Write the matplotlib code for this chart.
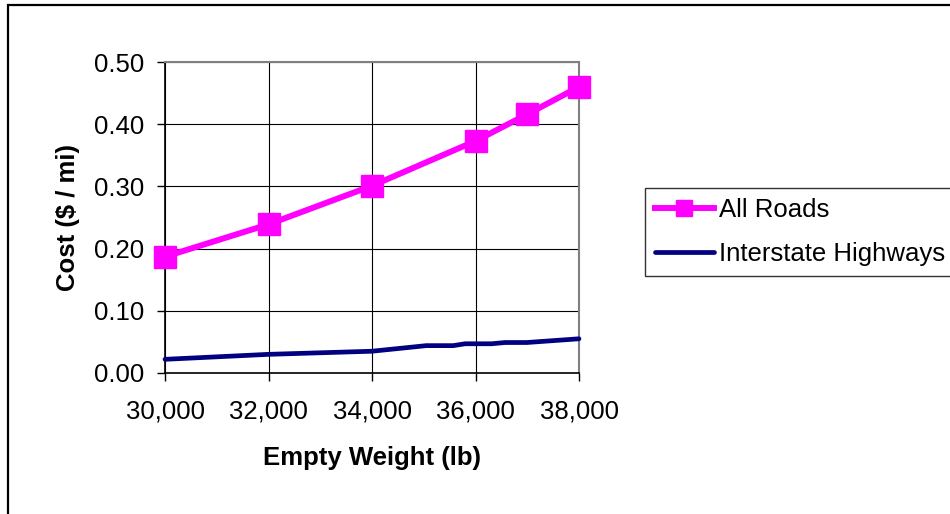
import matplotlib.pyplot as plt
from matplotlib.patches import Rectangle
from matplotlib.ticker import FuncFormatter

plt.rcParams['font.family'] = ['Liberation Sans', 'DejaVu Sans']

# cost per mile vs empty truck weight
all_weight = [30000, 32000, 33000, 34000, 35000, 36000, 37000, 38000]
all_cost = [0.187, 0.239, 0.270, 0.301, 0.337, 0.373, 0.416, 0.460]
all_marked = [0, 1, 3, 5, 6, 7]

hwy_weight = [30000, 32000, 34000, 35050, 35570, 35800, 36310, 36570, 36990, 38000]
hwy_cost = [0.022, 0.030, 0.035, 0.044, 0.044, 0.047, 0.047, 0.049, 0.049, 0.055]

xticks = [30000, 32000, 34000, 36000, 38000]
yticks = [0.0, 0.1, 0.2, 0.3, 0.4, 0.5]

fs = 18.5
fig = plt.figure(figsize=(9.5, 5.14), dpi=100)
ax = fig.add_axes([165/950, 1-373/514, 414/950, 311/514])

ax.plot(all_weight, all_cost, color='#FF00FF', lw=4.3, marker='s', ms=16,
        markevery=all_marked, label='All Roads', clip_on=False, zorder=4)
ax.plot(hwy_weight, hwy_cost, color='#000080', lw=3.4, solid_capstyle='round',
        label='Interstate Highways', clip_on=False, zorder=3)

ax.set_xlim(30000, 38000)
ax.set_ylim(0, 0.5)
ax.set_xticks(xticks)
ax.set_yticks(yticks)
ax.xaxis.set_major_formatter(FuncFormatter(lambda v, p: '{:,.0f}'.format(v)))
ax.yaxis.set_major_formatter(FuncFormatter(lambda v, p: '{:.2f}'.format(v)))
ax.tick_params(axis='x', direction='out', length=6, width=1, pad=13, labelsize=fs)
ax.tick_params(axis='y', direction='out', length=6, width=1, pad=9, labelsize=fs)
ax.grid(True, color='black', lw=0.8)
ax.set_axisbelow(True)

for s in ['left', 'bottom']:
    ax.spines[s].set_color('black')
    ax.spines[s].set_linewidth(1.2)
for s in ['top', 'right']:
    ax.spines[s].set_color('#808080')
    ax.spines[s].set_linewidth(1.5)

ax.set_xlabel('Empty Weight (lb)', fontsize=fs, fontweight='bold', va='center')
ax.xaxis.set_label_coords(0.5, (373-458)/311)
ax.set_ylabel('Cost ($ / mi)', fontsize=fs, fontweight='bold', va='center')
ax.yaxis.set_label_coords((67.5-165)/414, 0.5)

leg = fig.legend(loc='upper left', bbox_to_anchor=(645/950, 1-188/514),
                 fontsize=fs, frameon=True, fancybox=False, edgecolor='black',
                 handlelength=2.3, handletextpad=0.2, borderpad=0.38,
                 labelspacing=0.78, borderaxespad=0, markerscale=0.75)
leg.get_frame().set_linewidth(1.0)

# outer chart border
fig.patches.append(Rectangle((8/950, -0.1), 1.2, 1.1 - 5/514,
                             transform=fig.transFigure, fill=False,
                             edgecolor='black', lw=1.6))

fig.savefig('out.png', dpi=100)
